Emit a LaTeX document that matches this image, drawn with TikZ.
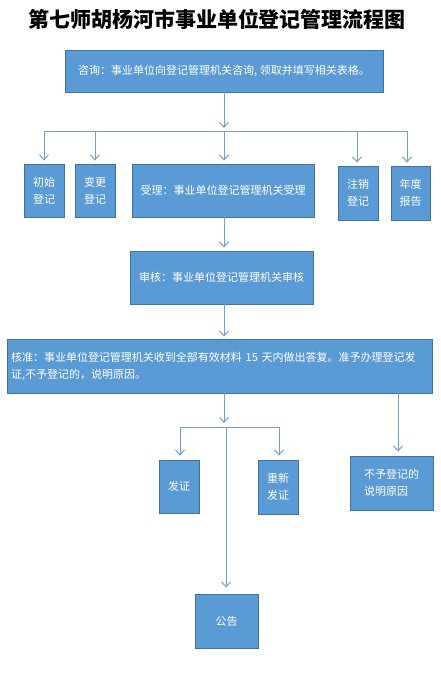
\documentclass[tikz,border=0pt]{standalone}
\usepackage{fontspec}
\setmainfont{Noto Sans CJK SC}
\usetikzlibrary{arrows.meta}
\definecolor{boxfill}{HTML}{5B9BD5}
\definecolor{boxline}{HTML}{41719C}
\definecolor{arrowc}{HTML}{6E9FD8}
\tikzset{
  box/.style={draw=boxline, line width=0.8pt, fill=boxfill, text=white, inner sep=2pt,
    font=\fontsize{11}{17}\selectfont, align=center},
  conn/.style={draw=arrowc, line width=1pt},
  arr/.style={conn, -{Straight Barb[length=5pt,width=9pt,line width=1pt]}},
}
\begin{document}
\begin{tikzpicture}[x=1pt,y=-1pt]
\useasboundingbox[fill=white] (0,0) rectangle (440,680);
\node[font=\fontsize{21}{24}\selectfont\bfseries, inner sep=0pt] (title) at (217,19) {第七师胡杨河市事业单位登记管理流程图};

\node[box, minimum width=318pt, minimum height=42pt] (zx) at (224,71) {咨询：事业单位向登记管理机关咨询, 领取并填写相关表格。};

\node[box, minimum width=40pt, minimum height=53pt] (cs) at (44,190.5) {初始\\登记};
\node[box, minimum width=40pt, minimum height=53pt] (bg) at (95,190.5) {变更\\登记};
\node[box, minimum width=182pt, minimum height=53pt] (sl) at (223,190.5) {受理：事业单位登记管理机关受理};
\node[box, minimum width=40pt, minimum height=54pt] (zz) at (358,193) {注销\\登记};
\node[box, minimum width=39pt, minimum height=54pt] (nd) at (410.5,193) {年度\\报告};

\node[box, minimum width=183pt, minimum height=53pt] (sh) at (221.5,277.5) {审核：事业单位登记管理机关审核};

\node[box, minimum width=425pt, minimum height=54pt, text width=417pt, align=left, inner sep=1pt] (hz) at (219.5,366) {核准：事业单位登记管理机关收到全部有效材料 15 天内做出答复。准予办理登记发\\证,不予登记的，说明原因。};

\node[box, minimum width=40pt, minimum height=53pt] (fz) at (179,486.5) {发证};
\node[box, minimum width=40pt, minimum height=54pt] (cf) at (278,487) {重新\\发证};
\node[box, minimum width=83pt, minimum height=54pt, align=left] (by) at (391.5,483) {不予登记的\\说明原因};
\node[box, minimum width=63pt, minimum height=54pt] (gg) at (226.5,621) {公告};

% top bus
\coordinate (b0) at (224,131);
\coordinate (bL) at (44,131);
\coordinate (bR) at (407,131);
\coordinate (bB) at (95,131);
\coordinate (bZ) at (357,131);
\draw[arr] (zx.south -| b0) -- (224,128) coordinate (t1);
\draw[conn] (bL) -- (bR);
\draw[arr, shorten >=3pt] (bL) -- (cs.north);
\draw[arr, shorten >=3pt] (bB) -- (bg.north);
\draw[arr, shorten >=3pt] (b0) -- (sl.north -| b0);
\draw[arr, shorten >=3pt] (bZ) -- (zz.north -| bZ);
\draw[arr, shorten >=3pt] (bR) -- (nd.north -| bR);

\draw[arr, shorten >=3pt] (sl.south -| b0) -- (sh.north -| b0);
\draw[arr, shorten >=2pt] (sh.south -| b0) -- (hz.north -| b0);

% lower bus
\coordinate (c0) at (226,427);
\coordinate (cL) at (180,427);
\coordinate (cR) at (279,427);
\draw[arr] (hz.south -| b0) -- (224,423);
\draw[conn] (cL) -- (cR);
\draw[arr, shorten >=4pt] (cL) -- (fz.north -| cL);
\draw[arr, shorten >=4pt] (cR) -- (cf.north -| cR);
\draw[arr, shorten >=6pt] (c0) -- (gg.north -| c0);
\coordinate (r0) at (398,393);
\draw[arr, shorten >=4pt] (hz.south -| r0) -- (by.north -| r0);
\end{tikzpicture}
\end{document}
